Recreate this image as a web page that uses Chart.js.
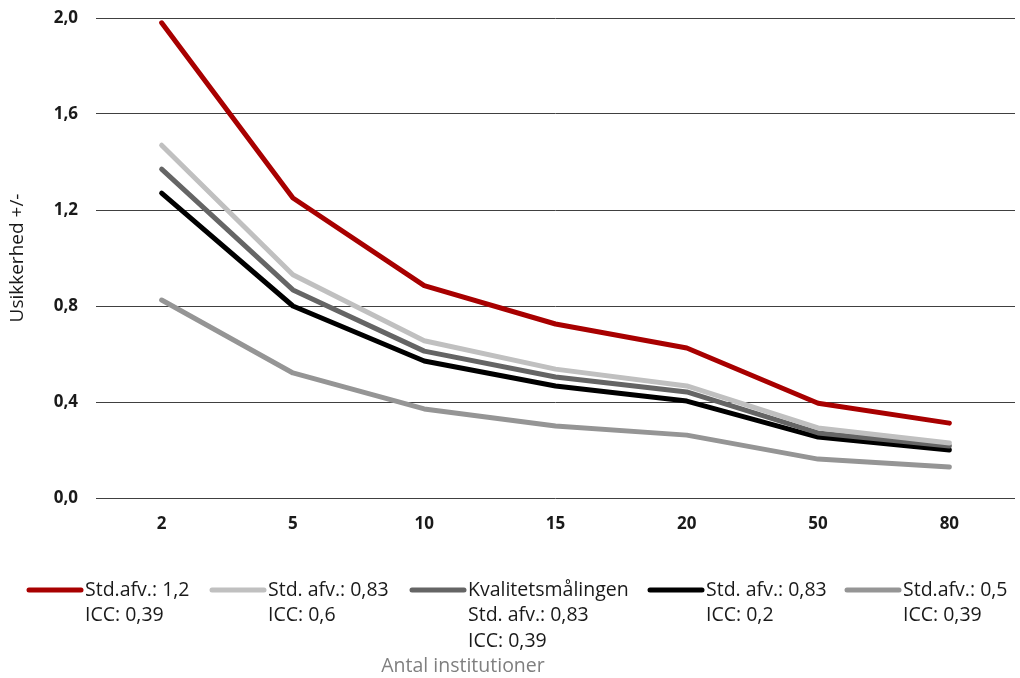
<!DOCTYPE html>
<html>
<head>
<meta charset="utf-8">
<script src="https://cdn.jsdelivr.net/npm/chart.js@4/dist/chart.umd.min.js"></script>
<style>
  html, body { margin: 0; padding: 0; background: #fff; }
  #wrap { position: relative; width: 1020px; height: 678px; }
</style>
</head>
<body>
<div id="wrap"><canvas id="chart" width="1020" height="678"></canvas></div>
<script>
const categories = ['2', '5', '10', '15', '20', '50', '80'];

const sdRed = [1.98, 1.25, 0.885, 0.725, 0.625, 0.395, 0.312];
const sdLight = [1.47, 0.93, 0.655, 0.537, 0.467, 0.292, 0.229];
const kvalitet = [1.37, 0.867, 0.612, 0.504, 0.442, 0.271, 0.217];
const sdBlack = [1.27, 0.80, 0.571, 0.467, 0.404, 0.254, 0.20];
const sdMid = [0.825, 0.521, 0.371, 0.30, 0.262, 0.162, 0.129];

const seriesLabels = [
    ['Std.afv.: 1,2', 'ICC: 0,39'],
    ['Std. afv.: 0,83', 'ICC: 0,6'],
    ['Kvalitetsmålingen', 'Std. afv.: 0,83', 'ICC: 0,39'],
    ['Std. afv.: 0,83', 'ICC: 0,2'],
    ['Std.afv.: 0,5', 'ICC: 0,39']
];
const seriesColors = ['#a80000', '#c0c0c0', '#656565', '#000000', '#959595'];
const seriesData = [sdRed, sdLight, kvalitet, sdBlack, sdMid];

const fontFamily = '"Open Sans", "Noto Sans", sans-serif';

// legend entries are drawn by hand since the labels span several lines
const legendX = [27, 210, 410, 648, 845];
const legendPlugin = {
    id: 'multiLineLegend',
    afterDraw(chart) {
        let ctx = chart.ctx;
        ctx.save();
        ctx.font = '19.5px ' + fontFamily;
        ctx.textBaseline = 'middle';
        ctx.textAlign = 'left';
        chart.data.datasets.forEach((ds, i) => {
            let x = legendX[i];
            let y = 590;
            ctx.strokeStyle = ds.borderColor;
            ctx.lineWidth = 5;
            ctx.lineCap = 'round';
            ctx.beginPath();
            ctx.moveTo(x + 2, y);
            ctx.lineTo(x + 54, y);
            ctx.stroke();
            ctx.fillStyle = '#1a1a1a';
            ds.legendLines.forEach((line, j) => {
                ctx.fillText(line, x + 58, y + j * 25.5);
            });
        });
        ctx.fillStyle = '#7f7f7f';
        ctx.textAlign = 'center';
        ctx.fillText('Antal institutioner', 463, 666);
        ctx.restore();
    }
};

let datasets = seriesData.map((values, i) => ({
    label: seriesLabels[i].join(' '),
    legendLines: seriesLabels[i],
    data: values,
    borderColor: seriesColors[i],
    backgroundColor: seriesColors[i],
    borderWidth: 5,
    borderCapStyle: 'round',
    borderJoinStyle: 'round',
    pointRadius: 0,
    tension: 0,
    fill: false
}));

new Chart(document.getElementById('chart'), {
    type: 'line',
    data: { labels: categories, datasets: datasets },
    options: {
        responsive: false,
        animation: false,
        layout: { padding: { top: 18, right: 5, left: 0, bottom: 0 } },
        plugins: {
            legend: { display: false },
            tooltip: { enabled: false }
        },
        scales: {
            x: {
                offset: true,
                grid: { display: false, drawTicks: false },
                border: { display: false },
                ticks: {
                    padding: 16,
                    color: '#1a1a1a',
                    font: { family: fontFamily, size: 17, weight: 'bold' }
                },
                afterFit(scale) {
                    scale.height = 180;
                    scale.paddingLeft = 0;
                    scale.paddingRight = 0;
                }
            },
            y: {
                min: 0,
                max: 2,
                grid: { color: '#404040', lineWidth: 1, drawTicks: false },
                border: { display: false },
                ticks: {
                    stepSize: 0.4,
                    padding: 18,
                    color: '#1a1a1a',
                    font: { family: fontFamily, size: 17, weight: 'bold' },
                    callback: v => v.toFixed(1).replace('.', ',')
                },
                title: {
                    display: true,
                    text: 'Usikkerhed +/-',
                    color: '#1a1a1a',
                    padding: { top: 6, bottom: 0 },
                    font: { family: fontFamily, size: 19 }
                },
                afterFit(scale) {
                    scale.width = 96;
                    scale.paddingTop = 0;
                    scale.paddingBottom = 0;
                }
            }
        }
    },
    plugins: [legendPlugin]
});
</script>
</body>
</html>
